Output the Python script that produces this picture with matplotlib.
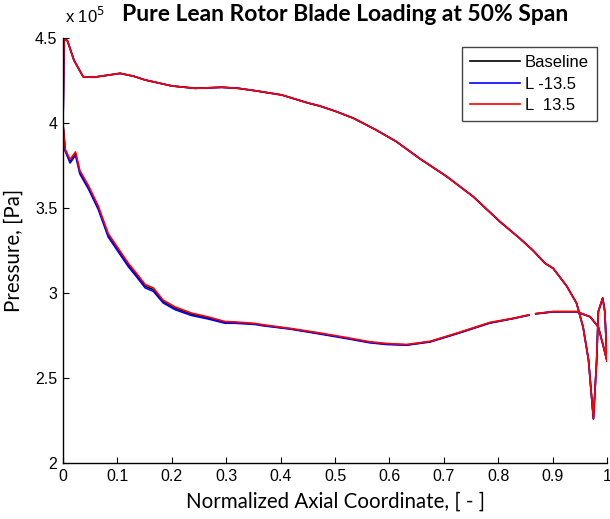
import numpy as np
import matplotlib.pyplot as plt

OUT_IMG = 'out.png'

nan = np.nan

# pressure side (same for all three cases)
x_ps = [0.0, 0.002, 0.008, 0.02, 0.037, 0.056, 0.08, 0.105, 0.13, 0.151, 0.2, 0.243,
        0.292, 0.322, 0.353, 0.402, 0.45, 0.472, 0.5, 0.534, 0.575, 0.613, 0.656,
        0.705, 0.754, 0.803, 0.84, 0.864, 0.886, 0.901, 0.926, 0.944, 0.956, 0.966,
        0.975, 0.981, 0.984, 0.992, 0.996, 1.0]
p_ps = [3.99, 4.49, 4.485, 4.37, 4.272, 4.269, 4.28, 4.292, 4.275, 4.253, 4.218, 4.204,
        4.21, 4.204, 4.19, 4.165, 4.118, 4.10, 4.07, 4.028, 3.96, 3.89, 3.79,
        3.686, 3.567, 3.42, 3.32, 3.25, 3.175, 3.145, 3.04, 2.94, 2.80, 2.606,
        2.26, 2.606, 2.89, 2.97, 2.89, 2.60]

# suction side
x_ss = [0.0, 0.004, 0.013, 0.023, 0.031, 0.047, 0.065, 0.083, 0.102, 0.12, 0.135, 0.151,
        0.166, 0.184, 0.206, 0.236, 0.267, 0.298, 0.316, 0.353, 0.368, 0.417, 0.466,
        0.521, 0.564, 0.595, 0.632, 0.675, 0.724, 0.785, 0.827, 0.856, nan, 0.869,
        0.901, 0.944, 0.969, 0.984, 0.993, 1.0]
p_ss_base = [3.99, 3.84, 3.775, 3.82, 3.71, 3.62, 3.50, 3.34, 3.25, 3.165, 3.106, 3.04,
             3.02, 2.95, 2.91, 2.875, 2.853, 2.827, 2.826, 2.818, 2.81, 2.79, 2.765,
             2.735, 2.71, 2.70, 2.695, 2.714, 2.762, 2.825, 2.85, 2.87, nan, 2.878,
             2.89, 2.89, 2.86, 2.80, 2.69, 2.60]
p_ss_neg = [3.99, 3.835, 3.765, 3.81, 3.70, 3.61, 3.49, 3.33, 3.24, 3.155, 3.096, 3.03,
            3.01, 2.942, 2.902, 2.868, 2.847, 2.822, 2.822, 2.815, 2.807, 2.788, 2.762,
            2.732, 2.707, 2.697, 2.693, 2.712, 2.76, 2.823, 2.849, 2.869, nan, 2.877,
            2.889, 2.889, 2.86, 2.80, 2.69, 2.60]
p_ss_pos = [3.99, 3.845, 3.785, 3.83, 3.72, 3.63, 3.51, 3.35, 3.26, 3.175, 3.116, 3.05,
            3.03, 2.958, 2.918, 2.882, 2.859, 2.832, 2.83, 2.821, 2.813, 2.792, 2.768,
            2.738, 2.713, 2.703, 2.697, 2.716, 2.764, 2.827, 2.851, 2.871, nan, 2.879,
            2.891, 2.891, 2.86, 2.80, 2.69, 2.60]

cases = [('Baseline', 'k', p_ps, p_ss_base),
         ('L -13.5', (0, 0, 1), p_ps, p_ss_neg),
         ('L  13.5', (1, 0, 0), p_ps, p_ss_pos)]

x_ticks = [0, 0.1, 0.2, 0.3, 0.4, 0.5, 0.6, 0.7, 0.8, 0.9, 1]
x_ticklabels = ['0', '0.1', '0.2', '0.3', '0.4', '0.5', '0.6', '0.7', '0.8', '0.9', '1']
y_ticks = [2, 2.5, 3, 3.5, 4, 4.5]
y_ticklabels = ['2', '2.5', '3', '3.5', '4', '4.5']


def plot_loading():
    fig = plt.figure(figsize=(6.1, 5.19), dpi=100)
    ax = fig.add_axes([0.1033, 0.1079, 0.8918, 0.8189])

    for name, color, ps, ss in cases:
        ax.plot(x_ps, ps, color=color, lw=1.2, label=name)
        ax.plot(x_ss, ss, color=color, lw=1.2)

    ax.set_xlim(0, 1)
    ax.set_ylim(2, 4.5)
    ax.set_xticks(x_ticks)
    ax.set_xticklabels(x_ticklabels, family='Liberation Sans', fontsize=11.5)
    ax.set_yticks(y_ticks)
    ax.set_yticklabels(y_ticklabels, family='Liberation Sans', fontsize=11.5)
    ax.tick_params(direction='in', length=4, width=0.8, pad=4)
    ax.spines['top'].set_visible(False)
    ax.spines['right'].set_visible(False)
    for s in ('left', 'bottom'):
        ax.spines[s].set_linewidth(1.0)

    ax.text(0.003, 1.035, r'x 10$^5$', transform=ax.transAxes, ha='left', va='baseline',
            family='Liberation Sans', fontsize=12)

    ax.set_title('Pure Lean Rotor Blade Loading at 50% Span', family='Lato',
                 fontweight='bold', fontsize=16.5, pad=12, x=0.518)
    ax.set_xlabel('Normalized Axial Coordinate, [ - ]', family='Lato', fontsize=14.8, labelpad=6)
    ax.set_ylabel('Pressure, [Pa]', family='Lato', fontsize=14.8, labelpad=8)

    leg = ax.legend(loc='upper right', bbox_to_anchor=(0.982, 0.979), borderaxespad=0,
                    prop={'family': 'Liberation Sans', 'size': 12},
                    fancybox=False, framealpha=1, edgecolor='#444444',
                    handlelength=3.0, handletextpad=0.3, borderpad=0.5, labelspacing=0.38)
    leg.get_frame().set_linewidth(1.0)

    fig.savefig(OUT_IMG, dpi=100)
    plt.close(fig)


if __name__ == "__main__":
    plot_loading()
